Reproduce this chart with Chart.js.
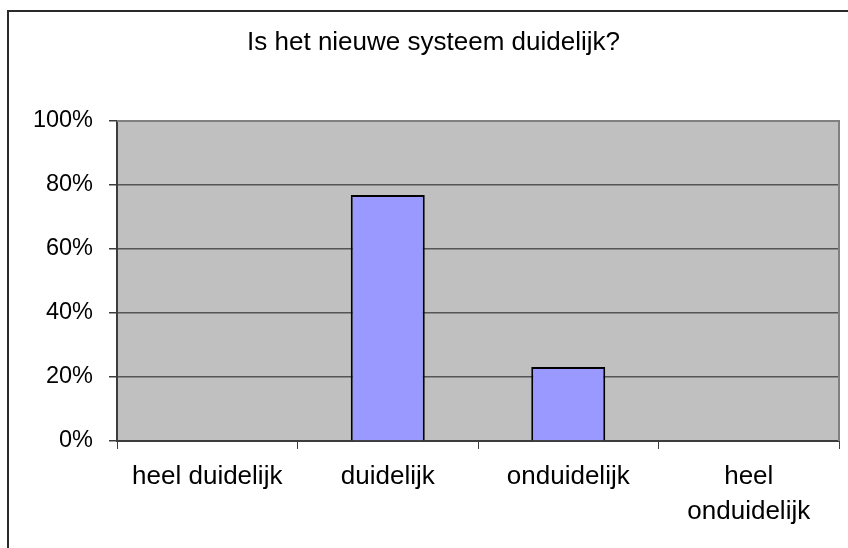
<!DOCTYPE html>
<html lang="nl">
    <head>
        <meta charset="UTF-8" />
        <title>Is het nieuwe systeem duidelijk?</title>
        <script src="https://cdn.jsdelivr.net/npm/chart.js"></script>
        <style>
            html,
            body {
                margin: 0;
                padding: 0;
                background: #ffffff;
            }
            .chart-container {
                width: 848px;
                height: 548px;
            }
        </style>
    </head>
    <body>
        <div class="chart-container">
            <canvas id="surveyChart"></canvas>
        </div>

        <script>
            const chartTitle = "Is het nieuwe systeem duidelijk?";
            const answers = [
                "heel duidelijk",
                "duidelijk",
                "onduidelijk",
                ["heel", "onduidelijk"],
            ];
            // share of respondents per answer, in percent
            const shares = [0, 76.9, 23.1, 0];
            const percentTicks = [0, 20, 40, 60, 80, 100];

            const fontFamily = "'Liberation Sans', Arial, sans-serif";
            const axisDark = "#3c3c3c";

            // white page, outer frame and grey plot background
            const plotBackground = {
                id: "plotBackground",
                beforeDraw(chart) {
                    const { ctx, chartArea } = chart;
                    ctx.save();
                    ctx.fillStyle = "#ffffff";
                    ctx.fillRect(0, 0, chart.width, chart.height);
                    ctx.strokeStyle = "#2a2a2a";
                    ctx.lineWidth = 2;
                    ctx.strokeRect(8, 11, chart.width + 20, chart.height + 20);
                    ctx.fillStyle = "#c0c0c0";
                    ctx.fillRect(
                        chartArea.left,
                        chartArea.top,
                        chartArea.right - chartArea.left,
                        chartArea.bottom - chartArea.top
                    );
                    ctx.restore();
                },
                afterDraw(chart) {
                    const { ctx, chartArea } = chart;
                    ctx.save();
                    ctx.strokeStyle = "#808080";
                    ctx.lineWidth = 2;
                    ctx.beginPath();
                    ctx.moveTo(chartArea.left, chartArea.top);
                    ctx.lineTo(chartArea.right, chartArea.top);
                    ctx.lineTo(chartArea.right, chartArea.bottom);
                    ctx.stroke();
                    ctx.restore();
                },
            };

            const ctx = document.getElementById("surveyChart").getContext("2d");

            new Chart(ctx, {
                type: "bar",
                data: {
                    labels: answers,
                    datasets: [
                        {
                            label: "Aandeel",
                            data: shares,
                            backgroundColor: "#9999ff",
                            borderColor: "#000000",
                            borderWidth: 2,
                            categoryPercentage: 1,
                            barPercentage: 0.41,
                        },
                    ],
                },
                options: {
                    responsive: true,
                    maintainAspectRatio: false,
                    animation: false,
                    layout: {
                        padding: { top: 10, left: 28, right: 9, bottom: 0 },
                    },
                    plugins: {
                        legend: { display: false },
                        tooltip: { enabled: false },
                        title: {
                            display: true,
                            text: chartTitle,
                            color: "#000000",
                            font: {
                                family: fontFamily,
                                size: 26,
                                weight: "normal",
                                lineHeight: 1.2,
                            },
                            padding: { top: 17.4, bottom: 62.4 },
                        },
                    },
                    scales: {
                        x: {
                            offset: true,
                            grid: {
                                offset: true,
                                drawOnChartArea: false,
                                drawTicks: true,
                                tickLength: 8,
                                color: axisDark,
                                tickColor: axisDark,
                            },
                            border: { color: axisDark, width: 2 },
                            ticks: {
                                color: "#000000",
                                padding: 10.5,
                                maxRotation: 0,
                                autoSkip: false,
                                font: {
                                    family: fontFamily,
                                    size: 26,
                                    lineHeight: 1.35,
                                },
                            },
                            afterFit(scale) {
                                scale.height = 107;
                            },
                        },
                        y: {
                            min: 0,
                            max: 100,
                            afterBuildTicks(scale) {
                                scale.ticks = percentTicks.map((v) => ({ value: v }));
                            },
                            grid: {
                                color: "#555555",
                                lineWidth: 1.5,
                                tickLength: 8,
                                tickColor: axisDark,
                            },
                            border: { color: axisDark, width: 2 },
                            ticks: {
                                color: "#000000",
                                padding: 16,
                                font: { family: fontFamily, size: 23.5 },
                                callback: (value) => value + "%",
                            },
                            afterFit(scale) {
                                scale.width = 89;
                            },
                        },
                    },
                },
                plugins: [plotBackground],
            });
        </script>
    </body>
</html>
